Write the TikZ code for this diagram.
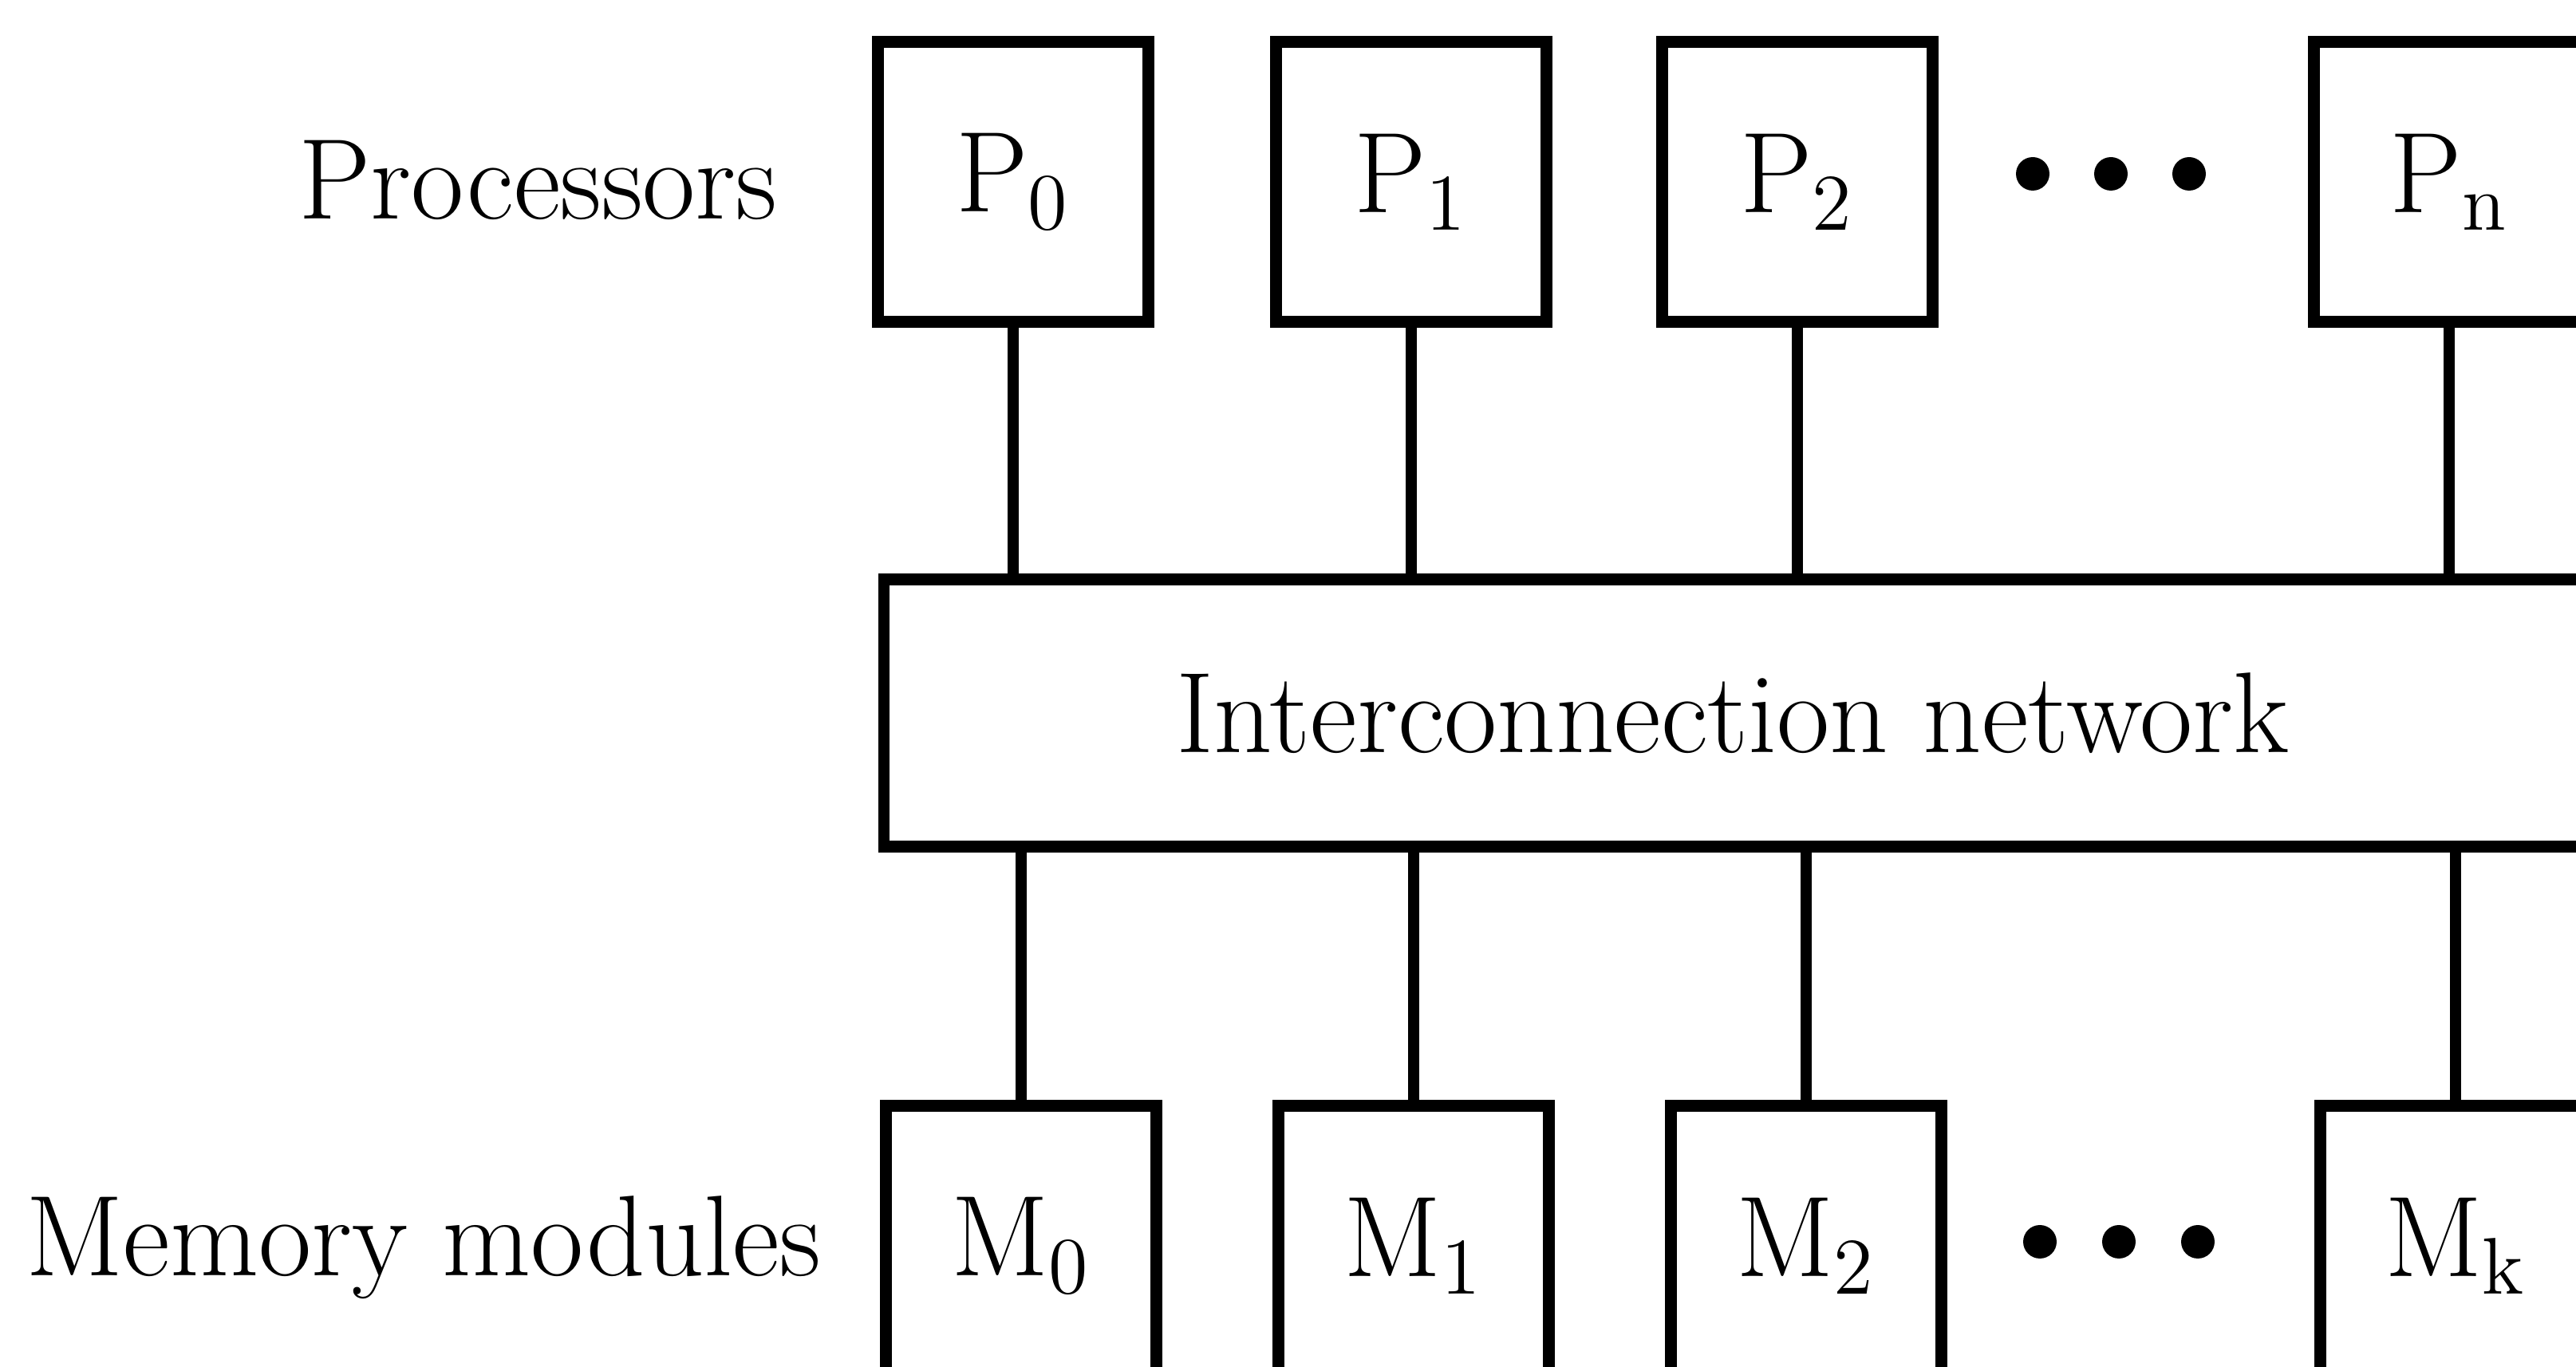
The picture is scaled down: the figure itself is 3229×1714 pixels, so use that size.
\documentclass[tikz,border=0pt]{standalone}
\begin{document}
\begin{tikzpicture}[x=0.005cm, y=-0.005cm,
    unit/.style={draw, line width=2.1pt, minimum width=1.7cm, minimum height=1.76cm,
        inner sep=0pt, font=\fontsize{20.5}{24}\selectfont},
    rowname/.style={inner sep=0pt, font=\fontsize{20.5}{24}\selectfont},
    wire/.style={line width=1.9pt},
    dotmark/.style={circle, fill, inner sep=0pt, minimum width=0.19cm, minimum height=0.21cm}]
    \useasboundingbox (0,0) rectangle (3229,1714);
    \clip (0,0) rectangle (3229,1714);

    % Row of processors
    \node[rowname, anchor=base east] (proclbl) at (976,275) {Processors};
    \node[unit] (p0) at (1270,228) {P\textsubscript{0}};
    \node[unit] (p1) at (1769,228) {P\textsubscript{1}};
    \node[unit] (p2) at (2253,228) {P\textsubscript{2}};
    \node[unit] (pn) at (3070,228) {P\textsubscript{n}};
    \foreach \x [count=\i] in {2548,2646,2744}
        \node[dotmark] (pdot\i) at (\x,218) {};

    % Network in the middle
    \node[unit, minimum width=10.65cm, minimum height=1.68cm] (net) at (2172,894)
        {Interconnection network};

    % Row of memory modules
    \node[rowname, anchor=base west] (memlbl) at (31,1600) {Memory modules};
    \node[unit] (m0) at (1280,1562) {M\textsubscript{0}};
    \node[unit] (m1) at (1772,1562) {M\textsubscript{1}};
    \node[unit] (m2) at (2264,1562) {M\textsubscript{2}};
    \node[unit] (mk) at (3078,1562) {M\textsubscript{k}};
    \foreach \x [count=\i] in {2557,2656,2755}
        \node[dotmark] (mdot\i) at (\x,1557) {};

    % Links to the network
    \foreach \n in {p0,p1,p2,pn}
        \draw[wire] (\n.south) -- (\n.south |- net.north);
    \foreach \n in {m0,m1,m2,mk}
        \draw[wire] (\n.north) -- (\n.north |- net.south);
\end{tikzpicture}
\end{document}
